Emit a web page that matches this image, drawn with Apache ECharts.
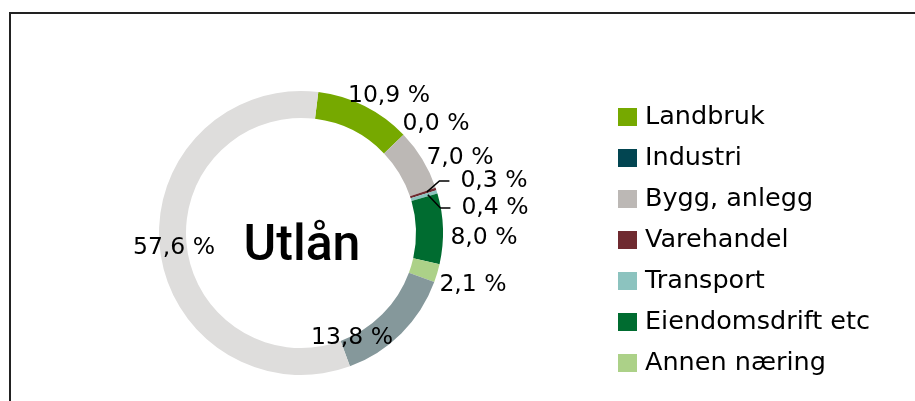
<!DOCTYPE html>
<html>
<head>
<meta charset="utf-8">
<script src="https://cdn.jsdelivr.net/npm/echarts@6/dist/echarts.min.js"></script>
<style>
  html, body { margin: 0; padding: 0; background: #fff; }
  #chart { width: 915px; height: 401px; }
</style>
</head>
<body>
<div id="chart"></div>
<script>
// sectors, clockwise from Landbruk
var sectors = ['Landbruk', 'Industri', 'Bygg, anlegg', 'Varehandel', 'Transport',
               'Eiendomsdrift etc', 'Annen næring', 'Offentlig', 'Personmarked'];
var shares = [10.9, 0.0, 7.0, 0.3, 0.4, 8.0, 2.1, 13.8, 57.6];
var legendNames = sectors.slice(0, 7);

var colors = ['#76a900', '#024551', '#bcb8b5', '#6f2a30', '#8cc3bf',
              '#006c30', '#acd188', '#85989b', '#dedddc'];
// where each label text sits, relative to the pie centre (px)
var labelOffsets = [[88, -137], [135, -109], [159, -75], [193, -52], [194, -25],
                    [183, 5], [172, 52], [51, 105], [-127, 15]];
var withLine = [false, false, false, true, true, false, false, false, false];

var cx = 301, cy = 233;
var rIn = 115, rOut = 142;
var firstAngle = 7; // degrees clockwise from 12 o'clock
var labelFont = '23.5px "DejaVu Sans"';

var total = shares.reduce(function (a, b) { return a + b; }, 0);

function fmt(v) {
  return v.toFixed(1).replace('.', ',') + ' %';
}

// mid angle of each slice (radians, clockwise from top)
function midAngle(idx) {
  var before = 0;
  for (var k = 0; k < idx; k++) before += shares[k];
  var deg = firstAngle + 360 * (before + shares[idx] / 2) / total;
  return deg * Math.PI / 180;
}

var measure = document.createElement('canvas').getContext('2d');
function textWidth(s) {
  measure.font = labelFont;
  return measure.measureText(s).width;
}

var myChart = echarts.init(document.getElementById('chart'));

var data = [];
for (var i = 0; i < sectors.length; i++) {
  data.push({
    name: sectors[i],
    value: shares[i],
    itemStyle: { color: colors[i] }
  });
}

var graphics = [
  {
    type: 'rect',
    z: -10,
    shape: { x: 10, y: 13, width: 1000, height: 500 },
    style: { fill: null, stroke: '#222', lineWidth: 2 }
  },
  {
    type: 'text',
    x: cx + 1,
    y: cy + 14,
    style: {
      text: 'Utlån',
      fontFamily: 'Roboto',
      fontWeight: 500,
      fontSize: 50,
      fill: '#000',
      align: 'center',
      verticalAlign: 'middle'
    }
  }
];

// leader lines for the thin slices
for (var j = 0; j < shares.length; j++) {
  if (!withLine[j]) continue;
  var a = midAngle(j);
  var rm = (rIn + rOut) / 2 + 4;
  var ly = cy + labelOffsets[j][1];
  var endX = cx + labelOffsets[j][0] - textWidth(fmt(shares[j])) / 2 - 11;
  graphics.push({
    type: 'polyline',
    z: 100,
    shape: {
      points: [
        [cx + rm * Math.sin(a), cy - rm * Math.cos(a)],
        [endX - 10, ly],
        [endX, ly]
      ]
    },
    style: { fill: null, stroke: '#000', lineWidth: 1.5 }
  });
}

var option = {
  animation: false,
  graphic: graphics,
  legend: {
    orient: 'vertical',
    left: 613,
    top: 99,
    itemWidth: 19,
    itemHeight: 18,
    itemGap: 15,
    icon: 'rect',
    data: legendNames,
    textStyle: {
      fontFamily: 'DejaVu Sans',
      fontSize: 25.5,
      color: '#000',
      padding: [0, 0, 0, 3]
    }
  },
  series: [
    {
      type: 'pie',
      center: [cx, cy],
      radius: [rIn, rOut],
      startAngle: 90 - firstAngle,
      clockwise: true,
      avoidLabelOverlap: false,
      label: {
        show: true,
        position: 'outside',
        fontFamily: 'DejaVu Sans',
        fontSize: 23.5,
        color: '#000',
        formatter: function (p) {
          return fmt(p.value);
        }
      },
      labelLine: { show: false },
      labelLayout: function (p) {
        var o = labelOffsets[p.dataIndex];
        return { x: cx + o[0], y: cy + o[1], align: 'center', verticalAlign: 'middle' };
      },
      emphasis: { disabled: true },
      data: data
    }
  ]
};
myChart.setOption(option);
</script>
</body>
</html>
